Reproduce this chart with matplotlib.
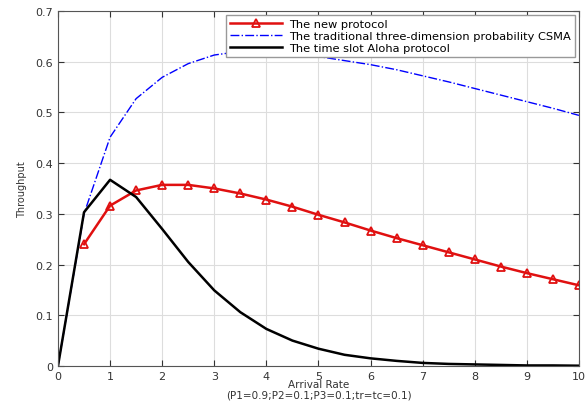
import matplotlib.pyplot as plt

# arrival rate samples (0 to 10, step 0.5)
rate = [0, 0.5, 1, 1.5, 2, 2.5, 3, 3.5, 4, 4.5, 5,
        5.5, 6, 6.5, 7, 7.5, 8, 8.5, 9, 9.5, 10]

# new protocol starts at 0.5
new_rate = rate[1:]
new_thr = [0.240, 0.316, 0.346, 0.357, 0.357, 0.350, 0.340, 0.328, 0.314, 0.298,
           0.283, 0.267, 0.252, 0.238, 0.224, 0.210, 0.196, 0.183, 0.171, 0.159]

csma_thr = [0.0, 0.300, 0.451, 0.527, 0.569, 0.596, 0.613, 0.620, 0.620, 0.616, 0.610,
            0.602, 0.594, 0.584, 0.572, 0.560, 0.547, 0.534, 0.521, 0.508, 0.494]

aloha_thr = [0.0, 0.303, 0.367, 0.333, 0.270, 0.205, 0.149, 0.106, 0.073, 0.050, 0.034,
             0.022, 0.015, 0.010, 0.006, 0.004, 0.003, 0.002, 0.001, 0.001, 0.0005]

fig = plt.figure(figsize=(5.88, 4.10), dpi=100)
ax = fig.add_axes([0.0986, 0.105, 0.886, 0.866])

ax.plot(new_rate, new_thr, color='#e01010', lw=1.8, marker='^', ms=5.5,
        mfc='none', mec='#e01010', mew=1.3, label='The new protocol')
ax.plot(rate, csma_thr, color='blue', lw=1, ls='-.',
        label='The traditional three-dimension probability CSMA')
ax.plot(rate, aloha_thr, color='black', lw=1.8, label='The time slot Aloha protocol')

ax.set_xlim(0, 10)
ax.set_ylim(0, 0.7)
ax.set_xticks(range(0, 11))
ax.set_yticks([0, 0.1, 0.2, 0.3, 0.4, 0.5, 0.6, 0.7])
ax.set_yticklabels(['0', '0.1', '0.2', '0.3', '0.4', '0.5', '0.6', '0.7'])
ax.tick_params(direction='in', labelsize=8, colors='#333333', top=True, right=True, length=4)
ax.grid(True, color='#dddddd', lw=0.8)
for s in ax.spines.values():
    s.set_color('#555555')

ax.set_xlabel('Arrival Rate\n(P1=0.9;P2=0.1;P3=0.1;tr=tc=0.1)', fontsize=7.5,
              color='#333333', labelpad=-1, linespacing=1.05)
ax.set_ylabel('Throughput', fontsize=7, color='#333333', labelpad=6)

ax.legend(loc='upper right', fontsize=8.2, fancybox=False, framealpha=1,
          edgecolor='#999999', borderaxespad=0.35, handlelength=4.6,
          labelspacing=0.2, borderpad=0.35, handletextpad=0.6)

fig.savefig('out.png', dpi=100)
